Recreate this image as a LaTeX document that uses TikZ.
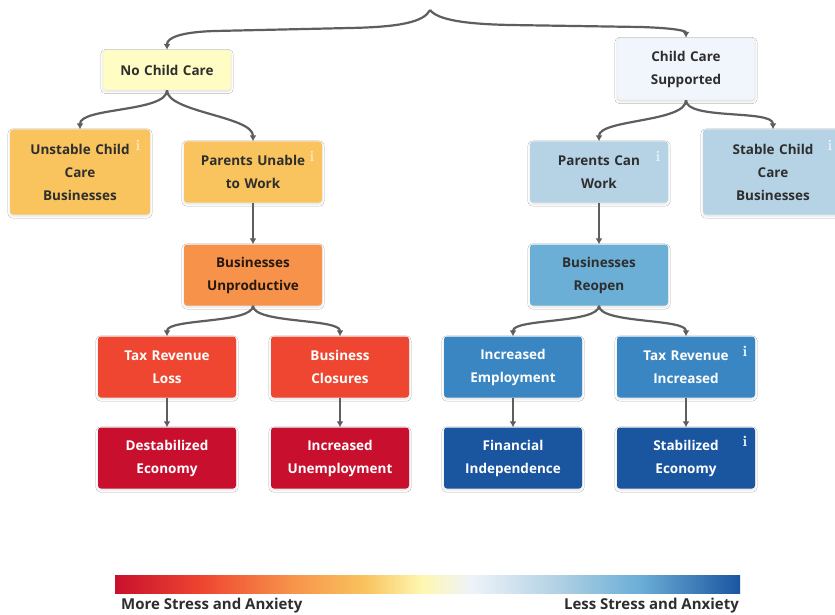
\documentclass[tikz,border=0pt]{standalone}
\usepackage{fontspec}
\setmainfont{Open Sans}
\usetikzlibrary{arrows.meta,shadows.blur}
\definecolor{cA}{HTML}{C8102E}
\definecolor{cB}{HTML}{EE4630}
\definecolor{cC}{HTML}{F7924A}
\definecolor{cD}{HTML}{F9C35E}
\definecolor{cE}{HTML}{FEF7B0}
\definecolor{cF}{HTML}{EEF3FA}
\definecolor{cG}{HTML}{B5D3E5}
\definecolor{cH}{HTML}{6BAED6}
\definecolor{cI}{HTML}{3A86C2}
\definecolor{cJ}{HTML}{1A55A0}
\definecolor{ncfill}{HTML}{FFFCC4}
\definecolor{ccsfill}{HTML}{F1F5FC}
\definecolor{linec}{HTML}{5E5E5E}
\definecolor{darktext}{HTML}{2E2E2E}
\pgfdeclarehorizontalshading{stressbar}{100bp}{color(0bp)=(cA); color(25bp)=(cA); color(32bp)=(cB); color(39bp)=(cC); color(45bp)=(cD); color(49.5bp)=(cE); color(53.5bp)=(cF); color(60bp)=(cG); color(67bp)=(cH); color(75bp)=(cJ); color(100bp)=(cJ)}
\begin{document}
\begin{tikzpicture}[x=1pt,y=-1pt,
  box/.style={rounded corners=3pt, minimum width=138pt, minimum height=61pt, align=center,
    text width=128pt, font=\fontsize{13.5}{23}\selectfont\bfseries, inner sep=0pt,
    blur shadow={shadow blur steps=6, shadow xshift=0pt, shadow yshift=-1.5pt, shadow opacity=12}},
  tallbox/.style={box, minimum width=140pt, minimum height=85pt},
  infoicon/.style={font=\fontfamily{lmr}\fontsize{15}{15}\selectfont\bfseries, inner sep=0pt},
  legend/.style={font=\fontsize{15}{17}\selectfont\bfseries, text=darktext, inner sep=0pt},
  conn/.style={draw=linec, line width=2.2pt, -{Latex[length=6pt,width=7pt]}}]
\useasboundingbox (0,0) rectangle (835,615);
\fill[white] (0,0) rectangle (835,615);

% nodes
\node[box, minimum width=123pt, minimum height=40pt, fill=ncfill, draw=black!8, text=darktext] (nc) at (167,70) {No Child Care};
\node[box, minimum width=138pt, minimum height=62pt, fill=ccsfill, draw=black!12, text=darktext] (ccs) at (686,69) {Child Care\\Supported};

\node[tallbox, fill=cD, text=darktext] (ucc) at (80,172) {Unstable Child\\Care\\Businesses};
\node[box, fill=cD, text=darktext] (pu) at (253,172) {Parents Unable\\to Work};
\node[box, fill=cG, text=darktext] (pc) at (599,172) {Parents Can\\Work};
\node[tallbox, fill=cG, text=darktext] (scc) at (773,172) {Stable Child\\Care\\Businesses};

\node[box, fill=cC, text=black!80!brown] (bu) at (253,275) {Businesses\\Unproductive};
\node[box, fill=cH, text=darktext] (br) at (599,275) {Businesses\\Reopen};

\node[box, fill=cB, text=white] (trl) at (167,367) {Tax Revenue\\Loss};
\node[box, fill=cB, text=white] (bc) at (340,367) {Business\\Closures};
\node[box, fill=cI, text=white] (ie) at (513,367) {Increased\\Employment};
\node[box, fill=cI, text=white] (tri) at (686,367) {Tax Revenue\\Increased};

\node[box, fill=cA, text=white] (de) at (167,458) {Destabilized\\Economy};
\node[box, fill=cA, text=white] (iu) at (340,458) {Increased\\Unemployment};
\node[box, fill=cJ, text=white] (fi) at (513,458) {Financial\\Independence};
\node[box, fill=cJ, text=white] (se) at (686,458) {Stabilized\\Economy};

% info icons
\node[infoicon, text=white, opacity=0.6] (i1) at (138,145) {i};
\node[infoicon, text=white, opacity=0.6] (i2) at (312,156) {i};
\node[infoicon, text=white, opacity=0.7] (i3) at (658,156) {i};
\node[infoicon, text=white, opacity=0.7] (i4) at (830,145) {i};
\node[infoicon, text=white] (i5) at (745,351) {i};
\node[infoicon, text=white] (i6) at (745,441) {i};

% top brace
\coordinate (top) at (430,10);
\draw[conn] (top) .. controls (424,22) and (400,27) .. (350,28) -- (215,31) .. controls (180,32) and (167,38) .. (nc.north);
\draw[conn] (top) .. controls (438,20) and (465,24) .. (510,25) -- (640,27) .. controls (675,28) and (686,31) .. (ccs.north);

% branches
\draw[conn] (nc.south) .. controls +(0,22) and +(0,-22) .. (ucc.north);
\draw[conn] (nc.south) .. controls +(0,22) and +(0,-25) .. (pu.north);
\draw[conn] (ccs.south) .. controls +(0,22) and +(0,-22) .. (pc.north);
\draw[conn] (ccs.south) .. controls +(0,20) and +(0,-20) .. (scc.north);

\draw[conn] (pu.south) -- (bu.north);
\draw[conn] (pc.south) -- (br.north);

\draw[conn] (bu.south) .. controls +(0,18) and +(0,-18) .. (trl.north);
\draw[conn] (bu.south) .. controls +(0,18) and +(0,-18) .. (bc.north);
\draw[conn] (br.south) .. controls +(0,18) and +(0,-18) .. (ie.north);
\draw[conn] (br.south) .. controls +(0,18) and +(0,-18) .. (tri.north);

\draw[conn] (trl.south) -- (de.north);
\draw[conn] (bc.south) -- (iu.north);
\draw[conn] (ie.south) -- (fi.north);
\draw[conn] (tri.south) -- (se.north);

% colour bar
\shade[shading=stressbar] (115,575) rectangle (740,593);
\node[legend, anchor=west] (more) at (121,606) {More Stress and Anxiety};
\node[legend, anchor=east] (less) at (739,606) {Less Stress and Anxiety};
\end{tikzpicture}
\end{document}
